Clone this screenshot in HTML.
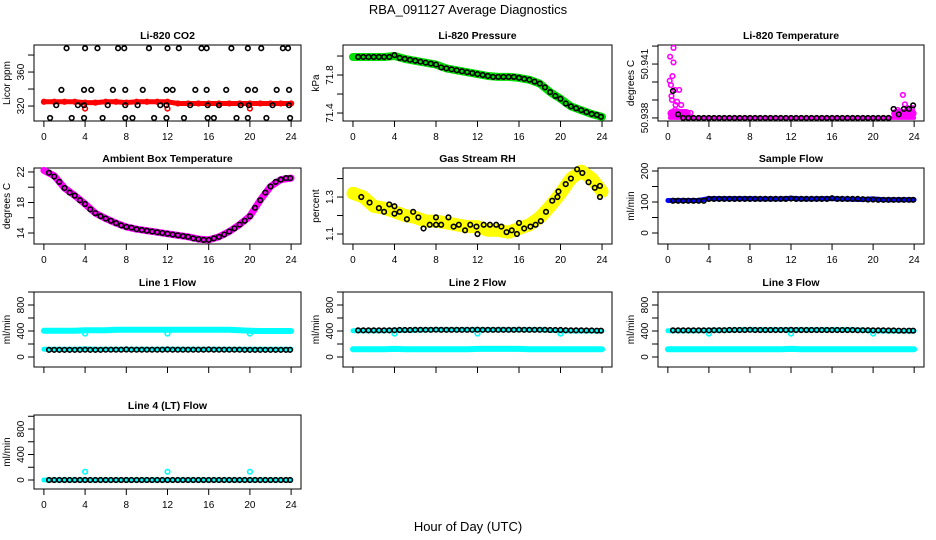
<!DOCTYPE html>
<html><head><meta charset="utf-8">
<style>
html,body{margin:0;padding:0;background:#fff;}
svg{display:block;font-family:"Liberation Sans",sans-serif;}
</style></head>
<body>
<svg id="chart" width="936" height="540" viewBox="0 0 936 540" xmlns="http://www.w3.org/2000/svg">
<text x="468" y="14" text-anchor="middle" font-size="13">RBA_091127  Average Diagnostics</text>
<text x="468" y="531" text-anchor="middle" font-size="13">Hour of Day (UTC)</text>
</svg>
<script>
// ---- shared categories ----
const hours48 = [0.5,1,1.5,2,2.5,3,3.5,4,4.5,5,5.5,6,6.5,7,7.5,8,8.5,9,9.5,10,10.5,11,11.5,12,12.5,13,13.5,14,14.5,15,15.5,16,16.5,17,17.5,18,18.5,19,19.5,20,20.5,21,21.5,22,22.5,23,23.5,23.9];
const hours25 = [0,1,2,3,4,5,6,7,8,9,10,11,12,13,14,15,16,17,18,19,20,21,22,23,24];
const xTicks = [0,4,8,12,16,20,24];

// ---- CO2 ----
const co2Hours = [2.2,4.0,5.2,7.2,7.8,10.2,12.0,13.1,15.3,15.8,18.2,19.8,21.1,23.2,23.7, 1.7,3.9,4.6,6.7,7.9,9.6,11.9,12.5,14.7,15.8,17.7,19.8,20.5,22.6,23.8, 0.6,2.7,3.9,5.7,7.9,8.6,10.7,11.9,13.6,15.9,16.5,18.7,19.8,21.6,23.9, 1.2,3.3,3.9,6.2,7.9,9.1,11.3,11.9,14.2,15.9,17.0,19.1,19.9,22.2,23.8];
const co2Vals = [388,388,388,388,388,388,388,388,388,388,388,388,388,388,388, 339,339,339,339,339,339,339,339,339,339,339,339,339,339,339, 306,306,306,306,306,306,306,306,306,306,306,306,306,306,306, 321,321,321,321,321,321,321,321,321,321,321,321,321,321,321];
const co2Raw = [325,325,325,325,324,324,325,325,324,325,325,325,325,323,323,323,323,323,323,323,323,323,323,323,323];
const co2DipHours = [4,12,20];
const co2DipVals = [317,317,317];

// ---- Pressure ----
const presVals = [71.99,71.99,71.99,71.99,71.99,71.99,71.99,72.01,71.98,71.97,71.96,71.95,71.94,71.93,71.92,71.91,71.88,71.87,71.86,71.85,71.84,71.83,71.82,71.81,71.80,71.79,71.78,71.78,71.78,71.78,71.78,71.77,71.76,71.75,71.73,71.71,71.67,71.62,71.58,71.55,71.50,71.47,71.45,71.43,71.41,71.39,71.38,71.36];
const presRaw = [71.99,71.99,71.99,71.99,72.0,71.97,71.95,71.93,71.91,71.87,71.85,71.83,71.81,71.79,71.78,71.78,71.77,71.75,71.71,71.62,71.55,71.47,71.43,71.39,71.36];

// ---- Li-820 temperature ----
const tempVals = [50.9395,50.9382,50.938,50.938,50.938,50.938,50.938,50.938,50.938,50.938,50.938,50.938,50.938,50.938,50.938,50.938,50.938,50.938,50.938,50.938,50.938,50.938,50.938,50.938,50.938,50.938,50.938,50.938,50.938,50.938,50.938,50.938,50.938,50.938,50.938,50.938,50.938,50.938,50.938,50.938,50.938,50.938,50.938,50.9385,50.9382,50.9385,50.9385,50.9387];
const tempRawHours = [0.55,0.22,0.55,0.45,0.18,0.3,0.7,0.35,0.4,0.75,1.1,1.3,0.7,2.2,22.9,23.1,23.35,22.4,1.0,0.9,23.8,23.6];
const tempRawVals = [50.9419,50.94141,50.94109,50.94033,50.94007,50.93983,50.93956,50.93922,50.939,50.93872,50.93956,50.93872,50.93844,50.93828,50.93928,50.93876,50.93855,50.93844,50.93835,50.9389,50.93855,50.9384];

// ---- Ambient box temperature ----
const ambVals = [21.9,21.4,20.7,19.9,19.3,18.9,18.3,17.8,17.1,16.6,16.2,15.9,15.6,15.3,15.0,14.8,14.7,14.5,14.4,14.3,14.2,14.1,14.0,13.9,13.8,13.7,13.6,13.5,13.3,13.2,13.1,13.1,13.3,13.5,13.8,14.2,14.6,15.1,15.6,16.2,17.3,18.3,19.3,20.1,20.7,21.0,21.2,21.2];
const ambRaw = [22.2,21.5,19.9,18.9,17.8,16.6,15.9,15.3,14.8,14.5,14.3,14.1,13.9,13.7,13.5,13.2,13.1,13.5,14.2,15.1,16.2,18.3,20.1,21.0,21.2];

// ---- Gas stream RH ----
const rhHours = [0.8,1.6,2.5,3.0,3.5,4.0,4.0,4.5,5.2,5.8,6.3,6.8,7.4,8.0,8.0,8.5,9.2,9.7,10.2,10.8,11.3,11.9,12.0,12.6,13.2,13.8,14.3,14.8,15.3,15.8,16.0,16.5,17.1,17.6,18.1,18.6,19.2,19.7,19.8,20.5,21.0,21.6,22.1,22.7,23.3,23.8,23.8];
const rhVals = [1.30,1.27,1.24,1.22,1.26,1.25,1.21,1.22,1.18,1.22,1.19,1.13,1.15,1.19,1.15,1.15,1.19,1.14,1.15,1.12,1.15,1.14,1.10,1.15,1.15,1.15,1.14,1.11,1.12,1.10,1.16,1.13,1.14,1.15,1.17,1.22,1.28,1.30,1.33,1.37,1.40,1.45,1.43,1.38,1.35,1.36,1.30];
const rhRaw = [1.32,1.30,1.25,1.24,1.22,1.20,1.19,1.17,1.17,1.16,1.15,1.14,1.14,1.12,1.12,1.11,1.13,1.15,1.19,1.25,1.32,1.40,1.44,1.40,1.33];

// ---- Sample flow ----
const sampVals = [104,104,104,104,104,104,104,110,110,110,110,110,110,110,110,110,110,110,110,110,110,110,110,111,110,110,110,110,110,110,110,112,110,110,110,110,110,109,108,108,107,107,107,107,107,107,107,107];
const sampRaw = [105,105,105,105,111,111,111,111,111,110,110,110,112,110,110,111,111,110,109,108,110,107,107,107,107];

// ---- Line flows ----
const l1Vals = [110,110,110,110,110,110,110,112,110,110,110,112,112,112,112,115,112,112,112,112,112,112,112,115,112,112,112,112,112,112,112,115,112,112,112,112,112,112,110,110,110,110,110,110,110,110,110,110];
const l1HiRaw = [405,405,405,405,410,410,412,420,420,420,420,420,420,420,420,420,420,420,418,410,405,400,400,400,400];
const l1LoRaw = [120,120,120,120,125,120,120,120,120,120,120,120,122,120,120,120,120,120,120,120,120,118,118,118,118];
const l2Vals = [410,410,410,410,410,410,410,412,415,415,415,418,418,418,418,420,418,418,418,418,418,418,418,420,418,418,418,418,418,418,418,420,418,418,418,418,418,415,415,415,412,410,410,410,408,408,405,405];
const l2LoRaw = [120,120,120,120,125,120,120,120,120,120,120,120,125,125,125,125,125,120,120,120,120,120,118,118,118];
const l3Vals = [410,410,410,410,410,410,410,410,412,412,412,415,415,415,415,418,415,415,415,415,415,415,415,418,415,415,415,415,415,415,415,415,415,415,415,415,412,412,412,410,410,410,408,408,405,405,405,405];
const l3LoRaw = [118,118,118,118,120,120,120,120,120,120,120,120,125,120,120,120,120,120,120,120,120,118,118,118,118];
const l4Vals = [0,0,0,0,0,0,0,0,0,0,0,0,0,0,0,0,0,0,0,0,0,0,0,0,0,0,0,0,0,0,0,0,0,0,0,0,0,0,0,0,0,0,0,0,0,0,0,0];
const l4Raw = [0,0,0,0,0,0,0,0,0,0,0,0,0,0,0,0,0,0,0,0,0,0,0,0,0];
const flowDipHours = [4,12,20];
const flowDipVals = [360,360,360];
const l4SpikeVals = [130,130,130];

const NS = "http://www.w3.org/2000/svg";
const svg = document.getElementById('chart');
function mk(tag, attrs, parent){
  const e = document.createElementNS(NS, tag);
  for (const k in attrs) e.setAttribute(k, attrs[k]);
  (parent||svg).appendChild(e);
  return e;
}

function panel(key, title, box, dom, yticks, ylabs, ytitle, showX){
  const g = mk('g', {});
  
  
  const sx = h => box.x0 + (h + 0.96) / 25.92 * (box.x1 - box.x0);
  const sy = v => box.y1 - (v - dom[0]) / (dom[1] - dom[0]) * (box.y1 - box.y0);
  const t = mk('text', {x:(box.x0+box.x1)/2, y:box.y0-6, 'text-anchor':'middle', 'font-size':10.5, 'font-weight':'bold'}, g);
  t.textContent = title;
  
  
  const r = mk('rect', {x:box.x0, y:box.y0, width:box.x1-box.x0, height:box.y1-box.y0, fill:'none', stroke:'#000', 'stroke-width':1}, g);
  
  
  const xa = mk('g', {}, g);
  
  
  mk('line', {x1:sx(0), x2:sx(24), y1:box.y1, y2:box.y1, stroke:'#000'}, xa);
  xTicks.forEach(v => {
    mk('line', {x1:sx(v), x2:sx(v), y1:box.y1, y2:box.y1+6, stroke:'#000'}, xa);
    if (showX){
      const l = mk('text', {x:sx(v), y:box.y1+19, 'text-anchor':'middle', 'font-size':10}, xa);
      l.textContent = v;
      
      
    }
  });
  const ya = mk('g', {}, g);
  
  
  mk('line', {x1:box.x0, x2:box.x0, y1:sy(yticks[0]), y2:sy(yticks[yticks.length-1]), stroke:'#000'}, ya);
  yticks.forEach(v => {
    mk('line', {x1:box.x0-6, x2:box.x0, y1:sy(v), y2:sy(v), stroke:'#000'}, ya);
  });
  ylabs.forEach(v => {
    const y = sy(v);
    const l = mk('text', {x:box.x0-10, y:y, 'text-anchor':'middle', 'font-size':10, transform:`rotate(-90 ${box.x0-10} ${y})`}, ya);
    l.textContent = v;
    
    
  });
  const cy = (box.y0+box.y1)/2, cx = box.x0-24;
  const yt = mk('text', {x:cx, y:cy, 'text-anchor':'middle', 'font-size':10, transform:`rotate(-90 ${cx} ${cy})`}, g);
  yt.textContent = ytitle;
  
  
  const marks = mk('g', {}, g);
  
  
  return {sx, sy, g:marks};
}

function band(p, xs, ys, color, w, name){
  const pts = xs.map((x,i) => p.sx(x).toFixed(1) + ',' + p.sy(ys[i]).toFixed(1)).join(' ');
  const pl = mk('polyline', {points:pts, fill:'none', stroke:color, 'stroke-width':w, 'stroke-linecap':'round', 'stroke-linejoin':'round'}, p.g);
  
  
}
function pts(p, xs, ys, color, name, r, sw){
  xs.forEach((x,i) => {
    const c = mk('circle', {cx:p.sx(x), cy:p.sy(ys[i]), r:r||2.3, fill:'none', stroke:color, 'stroke-width':sw||1.6}, p.g);
    
    
  });
}

const C1 = {x0:34, x1:301}, C2 = {x0:343, x1:612}, C3 = {x0:658, x1:924};
const R1 = {y0:45, y1:121}, R2 = {y0:168, y1:244}, R3 = {y0:292, y1:367}, R4 = {y0:415, y1:489};
const B = (c, r) => ({x0:c.x0, x1:c.x1, y0:r.y0, y1:r.y1});
const flowTicks = [0,200,400,600,800,1000], flowLabs = [0,400,800];

let p = panel('co2', 'Li-820 CO2', B(C1,R1), [302.4,391.8], [320,340,360,380], [320,360], 'Licor ppm', true);
band(p, hours25, co2Raw, '#ff0000', 5, 'co2-raw-band');
pts(p, hours25, co2Raw, '#ff0000', 'co2-raw-point');
pts(p, co2DipHours, co2DipVals, '#ff0000', 'co2-raw-point');
pts(p, co2Hours, co2Vals, '#000', 'co2-avg-point');

p = panel('pressure', 'Li-820 Pressure', B(C2,R1), [71.316,72.116], [71.4,71.6,71.8,72.0], [71.4,71.8], 'kPa', true);
band(p, hours25, presRaw, '#00dd00', 8, 'pressure-raw-band');
pts(p, hours48, presVals, '#000', 'pressure-avg-point');

p = panel('li820-temp', 'Li-820 Temperature', B(C3,R1), [50.93783,50.94206], [50.938,50.939,50.940,50.941,50.942], [50.938,50.941], 'degrees C', true);
band(p, [0.2,24], [50.938,50.938], '#ff00ff', 4, 'li820-temp-raw-band');
band(p, [22.2,23.8], [50.93825,50.93825], '#ff00ff', 9, 'li820-temp-raw-band');
band(p, [0.4,1.8], [50.93825,50.93825], '#ff00ff', 9, 'li820-temp-raw-band');
pts(p, tempRawHours, tempRawVals, '#ff00ff', 'li820-temp-raw-point');
pts(p, hours48, tempVals, '#000', 'li820-temp-avg-point');

p = panel('ambient-temp', 'Ambient Box Temperature', B(C1,R2), [12.56,22.52], [14,16,18,20,22], [14,18,22], 'degrees C', true);
band(p, hours25, ambRaw, '#ff00ff', 7, 'ambient-raw-band');
pts(p, hours48, ambVals, '#000', 'ambient-avg-point');

p = panel('gas-rh', 'Gas Stream RH', B(C2,R2), [1.046,1.457], [1.1,1.2,1.3,1.4], [1.1,1.3], 'percent', true);
band(p, hours25, rhRaw, '#ffff00', 13, 'rh-raw-band');
pts(p, hours25, rhRaw, '#ffff00', 'rh-raw-point', 3);
pts(p, rhHours, rhVals, '#000', 'rh-avg-point');

p = panel('sample-flow', 'Sample Flow', B(C3,R2), [-35.5,209.7], [0,50,100,150,200], [0,100,200], 'ml/min', true);
band(p, hours25, sampRaw, '#0000ff', 5, 'sample-raw-band');
pts(p, hours48, sampVals, '#000', 'sample-avg-point');

p = panel('line1-flow', 'Line 1 Flow', B(C1,R3), [-154,1000], flowTicks, flowLabs, 'ml/min', false);
band(p, hours25, l1HiRaw, '#00ffff', 6, 'line1-high-band');
band(p, hours25, l1LoRaw, '#00ffff', 5, 'line1-low-band');
pts(p, flowDipHours, flowDipVals, '#00ffff', 'line1-raw-point');
pts(p, hours48, l1Vals, '#000', 'line1-avg-point');

p = panel('line2-flow', 'Line 2 Flow', B(C2,R3), [-154,1000], flowTicks, flowLabs, 'ml/min', false);
band(p, hours25, l1HiRaw, '#00ffff', 5, 'line2-high-band');
band(p, hours25, l2LoRaw, '#00ffff', 6, 'line2-low-band');
pts(p, flowDipHours, flowDipVals, '#00ffff', 'line2-raw-point');
pts(p, hours48, l2Vals, '#000', 'line2-avg-point');

p = panel('line3-flow', 'Line 3 Flow', B(C3,R3), [-154,1000], flowTicks, flowLabs, 'ml/min', false);
band(p, hours25, l1HiRaw, '#00ffff', 5, 'line3-high-band');
band(p, hours25, l3LoRaw, '#00ffff', 6, 'line3-low-band');
pts(p, flowDipHours, flowDipVals, '#00ffff', 'line3-raw-point');
pts(p, hours48, l3Vals, '#000', 'line3-avg-point');

p = panel('line4-flow', 'Line 4 (LT) Flow', B(C1,R4), [-141,1020], flowTicks, flowLabs, 'ml/min', true);
band(p, hours25, l4Raw, '#00ffff', 5, 'line4-raw-band');
pts(p, flowDipHours, l4SpikeVals, '#00ffff', 'line4-raw-point');
pts(p, hours48, l4Vals, '#000', 'line4-avg-point');
</script>
</body></html>
